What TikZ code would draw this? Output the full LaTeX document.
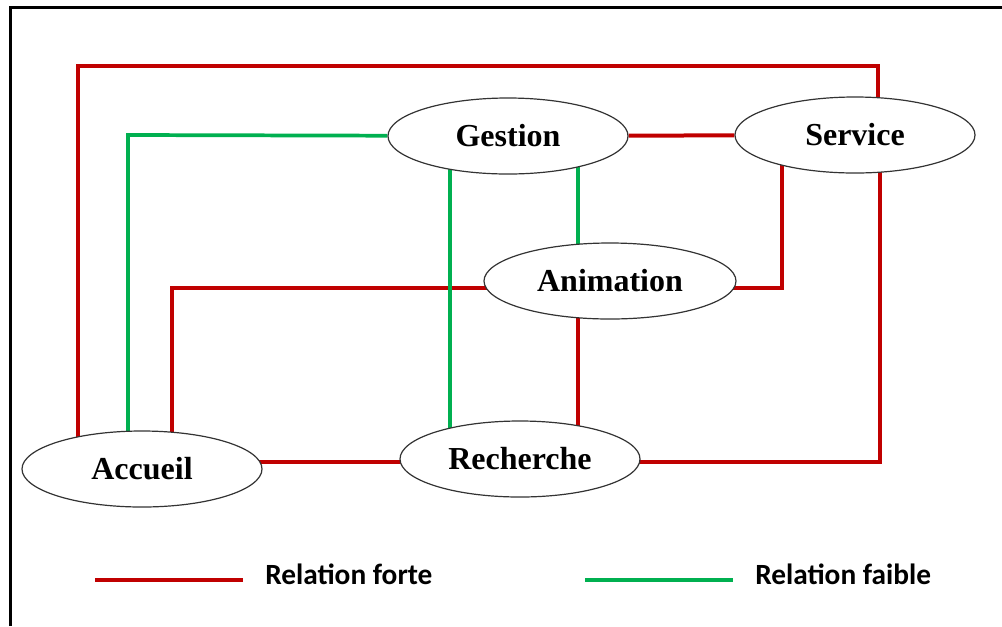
\documentclass[tikz,border=0pt]{standalone}
\usepackage{fontspec}
\setmainfont{Liberation Serif}
\newfontfamily\legendfont{Carlito}
\usetikzlibrary{shapes.geometric, backgrounds}
\definecolor{forterouge}{RGB}{192, 0, 0}
\definecolor{faiblevert}{RGB}{0, 176, 80}

\begin{document}
\begin{tikzpicture}[x=0.75pt, y=-0.75pt,
    poste/.style={ellipse, draw=black!80, line width=0.9pt, fill=white,
        minimum width=180pt, minimum height=57pt, inner sep=0pt,
        font=\fontsize{24}{26}\selectfont\bfseries},
    forte/.style={line width=3pt, forterouge},
    faible/.style={line width=2.8pt, faiblevert},
    legende/.style={anchor=west, inner sep=0pt, font=\legendfont\fontsize{22}{24}\selectfont\bfseries}]
\useasboundingbox (0,0) rectangle (1002,626);
% cadre
\draw[line width=2.2pt] (10.5,626) -- (10.5,7.5) -- (1002,7.5);

% postes
\node[poste] (gestion) at (508,136) {Gestion};
\node[poste] (service) at (855,135) {Service};
\node[poste, minimum width=189pt] (animation) at (610,281) {Animation};
\node[poste] (recherche) at (520,459) {Recherche};
\node[poste] (accueil) at (142,469) {Accueil};

% coudes
\coordinate (r1) at (78,66);
\coordinate (r2) at (878,66);
\coordinate (r3) at (782,288);
\coordinate (r4) at (172,288);
\coordinate (r5) at (880,462);
\coordinate (v1) at (128,135);
\coordinate (v2) at (450,0);
\coordinate (v3) at (578,0);

\begin{pgfonlayer}{background}
    \draw[forte] (accueil -| r1) -- (r1) -- (r2) -- (service -| r2);
    \draw[forte] (gestion) -- (service);
    \draw[forte] (service -| r3) -- (r3) -- (animation |- r3);
    \draw[forte] (animation |- r4) -- (r4) -- (accueil -| r4);
    \draw[forte] (animation -| v3) -- (recherche -| v3);
    \draw[forte] (accueil |- r5) -- (recherche |- r5);
    \draw[forte] (recherche |- r5) -- (r5) -- (service -| r5);
    \draw[faible] (gestion) -- (v1) -- (accueil -| v1);
    \draw[faible] (gestion -| v2) -- (recherche -| v2);
    \draw[faible] (gestion -| v3) -- (animation -| v3);
\end{pgfonlayer}

% legende
\node[legende] (lforte) at (265,574) {Relation forte};
\node[legende] (lfaible) at (755,574) {Relation faible};
\draw[forte] (95,580) -- (243,580);
\draw[faible] (585,580) -- (733,580);
\end{tikzpicture}
\end{document}
